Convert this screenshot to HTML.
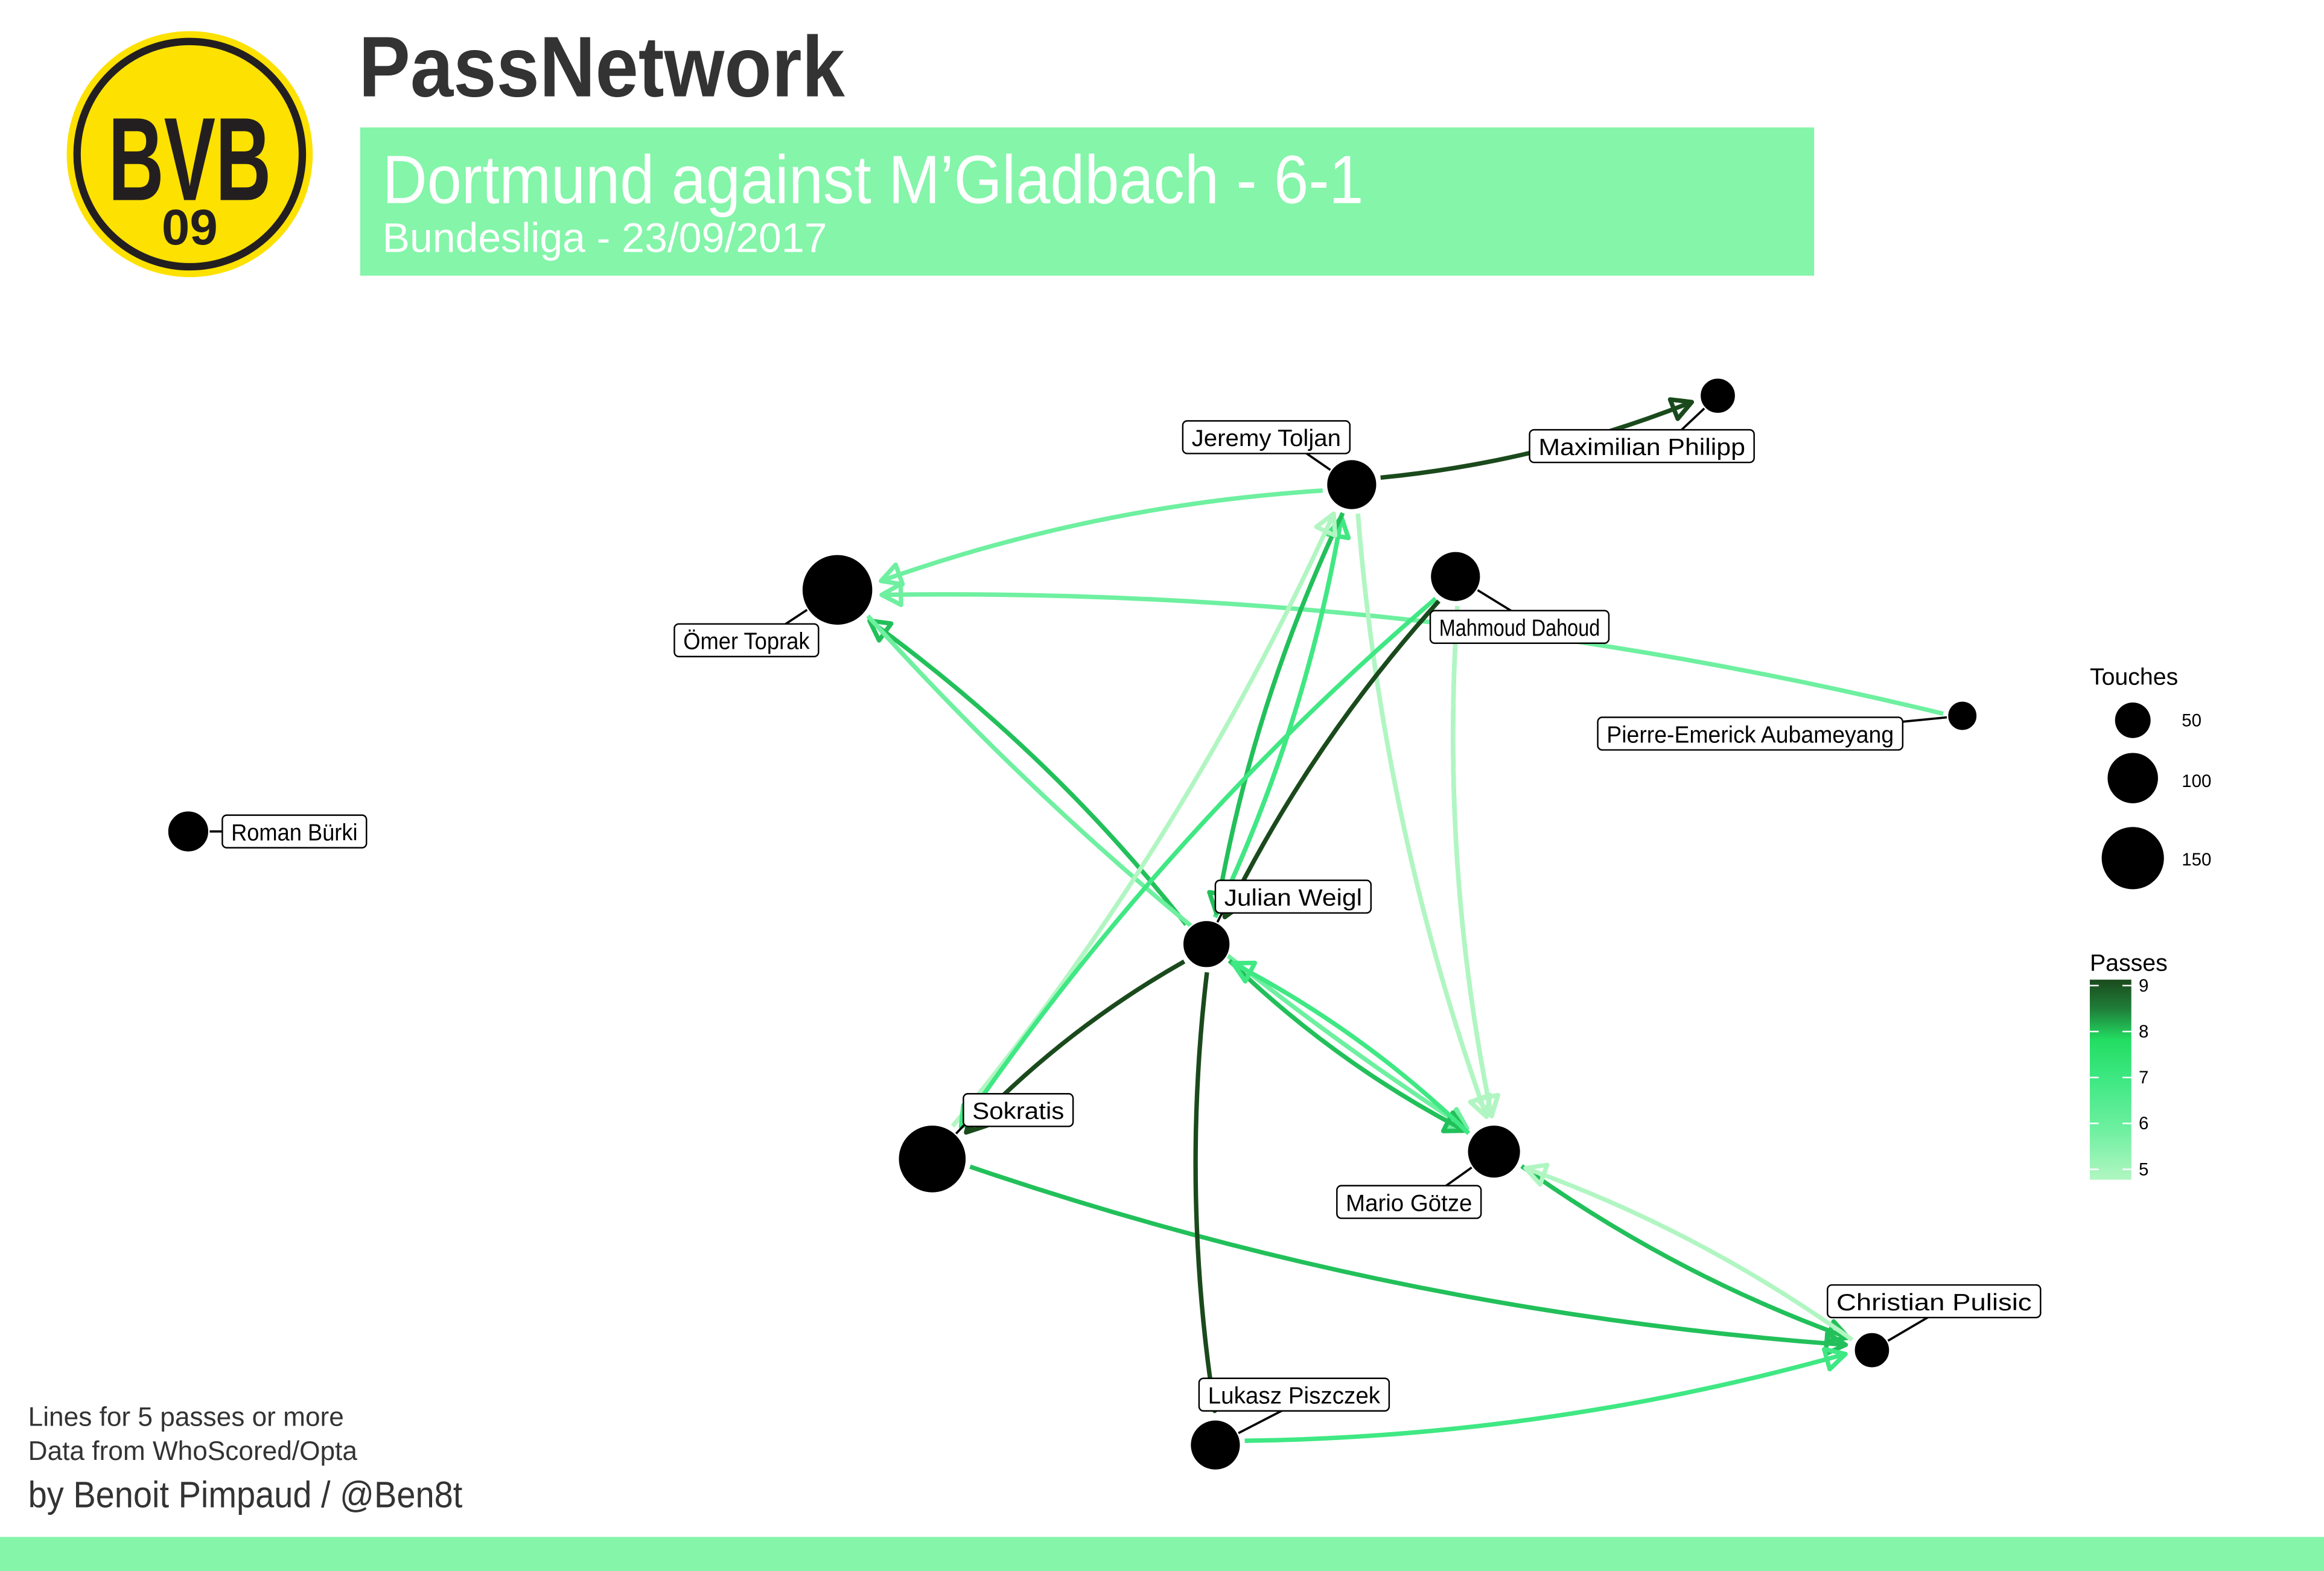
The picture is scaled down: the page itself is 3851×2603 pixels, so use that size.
<!DOCTYPE html>
<html><head><meta charset="utf-8"><style>
html,body{margin:0;padding:0;background:#fff;}
svg{display:block;}
text{font-family:"Liberation Sans",sans-serif;}
</style></head><body>
<svg id="chart" width="3851" height="2603" viewBox="0 0 1568 1060" preserveAspectRatio="none" xmlns="http://www.w3.org/2000/svg">
<defs>
<linearGradient id="pg" x1="0" y1="1" x2="0" y2="0">
<stop offset="0" stop-color="#b1f6c2"/><stop offset="0.25" stop-color="#6ef0a0"/><stop offset="0.5" stop-color="#3fe883"/><stop offset="0.7" stop-color="#22dd62"/><stop offset="0.85" stop-color="#20803a"/><stop offset="1" stop-color="#1a4a1c"/>
</linearGradient>
</defs>
<g>
<circle cx="128" cy="104" r="83" fill="#fde100"/>
<circle cx="128" cy="104" r="76" fill="none" stroke="#231f20" stroke-width="5"/>
<text x="128" y="135" text-anchor="middle" font-size="80" font-weight="bold" fill="#231f20" textLength="110" lengthAdjust="spacingAndGlyphs">BVB</text>
<text x="128" y="165" text-anchor="middle" font-size="34" font-weight="bold" fill="#231f20">09</text>
</g>
<text x="242" y="65" font-size="58" font-weight="bold" fill="#333" textLength="328" lengthAdjust="spacingAndGlyphs">PassNetwork</text>
<rect x="243" y="86" width="981" height="100" fill="#84f5a9"/>
<text x="258" y="137" font-size="46" fill="#fff" textLength="662" lengthAdjust="spacingAndGlyphs">Dortmund against M’Gladbach - 6-1</text>
<text x="258" y="170" font-size="28" fill="#fff" textLength="300" lengthAdjust="spacingAndGlyphs">Bundesliga - 23/09/2017</text>
<g id="edges"></g>
<g id="nodes"></g>
<g>
<text x="1410" y="462" font-size="16" fill="#000">Touches</text>
<circle cx="1439" cy="486" r="12" fill="#000"/><text x="1472" y="490" font-size="12">50</text>
<circle cx="1439" cy="525" r="17" fill="#000"/><text x="1472" y="531" font-size="12">100</text>
<circle cx="1439" cy="579" r="21" fill="#000"/><text x="1472" y="584" font-size="12">150</text>
</g>
<g>
<text x="1410" y="655" font-size="16" fill="#000">Passes</text>
<rect x="1410" y="661" width="28" height="135" fill="url(#pg)"/>
<g id="pticks"></g>
</g>
<text x="19" y="962" font-size="18" fill="#333">Lines for 5 passes or more</text>
<text x="19" y="985" font-size="18" fill="#333">Data from WhoScored/Opta</text>
<text x="19" y="1017" font-size="25" fill="#333" textLength="293" lengthAdjust="spacingAndGlyphs">by Benoit Pimpaud / @Ben8t</text>
<rect x="0" y="1037" width="1568" height="23" fill="#84f5a9"/>
</svg>
<script>
const players = ["Roman Bürki","Ömer Toprak","Jeremy Toljan","Maximilian Philipp","Mahmoud Dahoud","Pierre-Emerick Aubameyang","Julian Weigl","Sokratis","Mario Götze","Christian Pulisic","Lukasz Piszczek"];
const posX = [127,565,912,1159,982,1324,814,629,1008,1263,820];
const posY = [561,398,327,267,389,483,637,782,777,911,975];
const touches = [66,195,98,49,98,34,87,179,110,49,98];
const labelDX = [23,-110,-114,-127,-17,-246,6,21,-106,-30,-11];
const labelDY = [0,34,-32,34,34,12,-32,-33,34,-33,-34];
const edgeFrom = [2,2,5,6,1,6,6,2,7,2,2,4,4,6,4,4,6,8,7,10,8,9,6];
const edgeTo   = [3,1,1,1,8,2,2,6,2,8,8,7,6,7,8,8,8,6,9,9,9,8,10];
const edgePasses=[9,6,6,8,6,8,7,8,5,6,5,7,9,9,7,5,8,7,8,7,8,5,9];
const passTicks=[5,6,7,8,9];
const NS="http://www.w3.org/2000/svg";
function rScale(t){return 1.72*Math.sqrt(t);}
const cols=["#b1f6c2","#6ef0a0","#3fe883","#22c05a","#1a4a1c"];
function cScale(p){return cols[Math.max(0,Math.min(4,Math.round(p-5)))];}
function py(p){return 789-(p-5)*31;}
const eg=document.getElementById('edges');
for(let i=0;i<edgeFrom.length;i++){
 const a=edgeFrom[i],b=edgeTo[i];
 let x1=posX[a],y1=posY[a],x2=posX[b],y2=posY[b];
 const dx=x2-x1,dy=y2-y1,L=Math.hypot(dx,dy),ux=dx/L,uy=dy/L;
 const sx=x1+ux*(rScale(touches[a])+3),sy=y1+uy*(rScale(touches[a])+3);
 const ex=x2-ux*(rScale(touches[b])+6),ey=y2-uy*(rScale(touches[b])+6);
 const mx=(sx+ex)/2-uy*L*0.06,my=(sy+ey)/2+ux*L*0.06;
 const col=cScale(edgePasses[i]);
 const p=document.createElementNS(NS,'path');
 p.setAttribute('d',`M${sx},${sy} Q${mx},${my} ${ex},${ey}`);
 p.setAttribute('fill','none');p.setAttribute('stroke',col);p.setAttribute('stroke-width','3');
 
 
 eg.appendChild(p);
 let tx=ex-mx,ty=ey-my;const tl=Math.hypot(tx,ty);tx/=tl;ty/=tl;
 const bx=ex-tx*13,by=ey-ty*13;
 const h=document.createElementNS(NS,'polygon');
 h.setAttribute('points',`${ex},${ey} ${bx-ty*7},${by+tx*7} ${bx+ty*7},${by-tx*7}`);
 h.setAttribute('fill','none');h.setAttribute('stroke',col);h.setAttribute('stroke-width','3');h.setAttribute('stroke-linejoin','round');
 
 
 eg.appendChild(h);
}
const ng=document.getElementById('nodes');
for(let i=0;i<players.length;i++){
 const x=posX[i],y=posY[i];
 const w=players[i].length*7.75+12;
 let lx=x+labelDX[i],ly=y+labelDY[i];
 const l=document.createElementNS(NS,'line');
 l.setAttribute('x1',x);l.setAttribute('y1',y);l.setAttribute('x2',lx+(labelDX[i]<0?w*0.6:10));l.setAttribute('y2',ly);
 l.setAttribute('stroke','#000');l.setAttribute('stroke-width','1.5');
 
 
 ng.appendChild(l);
 const c=document.createElementNS(NS,'circle');
 c.setAttribute('cx',x);c.setAttribute('cy',y);c.setAttribute('r',rScale(touches[i]));c.setAttribute('fill','#000');c.setAttribute('stroke','#fff');c.setAttribute('stroke-width','1');
 
 
 ng.appendChild(c);
 const r=document.createElementNS(NS,'rect');
 r.setAttribute('x',lx);r.setAttribute('y',ly-11);r.setAttribute('width',w);r.setAttribute('height',22);r.setAttribute('rx',3);
 r.setAttribute('fill','#fff');r.setAttribute('stroke','#000');r.setAttribute('stroke-width','1');
 
 
 ng.appendChild(r);
 const t=document.createElementNS(NS,'text');
 t.setAttribute('x',lx+6);t.setAttribute('y',ly+6);t.setAttribute('font-size','16');t.textContent=players[i];
 t.setAttribute('textLength',w-12);t.setAttribute('lengthAdjust','spacingAndGlyphs');
 
 
 ng.appendChild(t);
}
const pt=document.getElementById('pticks');
passTicks.forEach(v=>{
 const t=document.createElementNS(NS,'text');
 t.setAttribute('x',1443);t.setAttribute('y',py(v)+4);t.setAttribute('font-size','12');t.textContent=v;
 
 
 pt.appendChild(t);
 const l=document.createElementNS(NS,'line');
 l.setAttribute('x1',1410);l.setAttribute('x2',1438);l.setAttribute('y1',py(v));l.setAttribute('y2',py(v));l.setAttribute('stroke','#fff');l.setAttribute('stroke-dasharray','6 16');
 
 
 pt.appendChild(l);
});
</script>
</body></html>
